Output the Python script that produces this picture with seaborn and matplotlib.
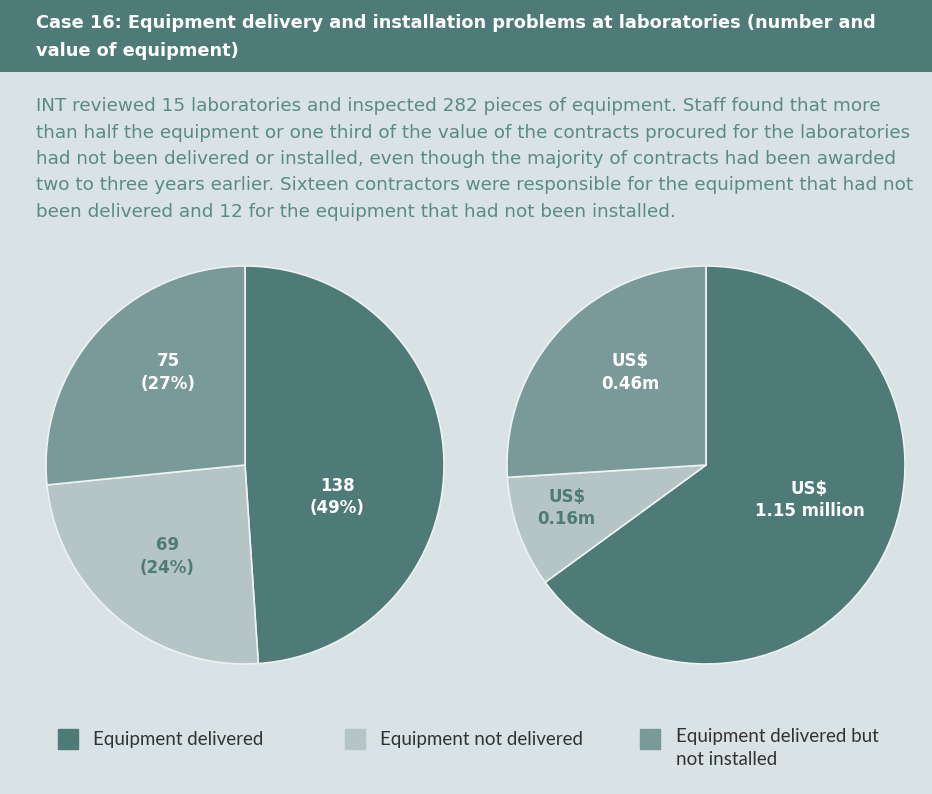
import matplotlib
matplotlib.use('Agg')
import matplotlib.pyplot as plt
import seaborn as sns

# Data
categories = ['Equipment delivered', 'Equipment not delivered', 'Equipment delivered but\nnot installed']
counts = [138, 69, 75]
count_labels = ['138\n(49%)', '69\n(24%)', '75\n(27%)']
values_musd = [1.15, 0.16, 0.46]
value_labels = ['US$\n1.15 million', 'US$\n0.16m', 'US$\n0.46m']

title = 'Case 16: Equipment delivery and installation problems at laboratories (number and\nvalue of equipment)'
body = ['INT reviewed 15 laboratories and inspected 282 pieces of equipment. Staff found that more',
        'than half the equipment or one third of the value of the contracts procured for the laboratories',
        'had not been delivered or installed, even though the majority of contracts had been awarded',
        'two to three years earlier. Sixteen contractors were responsible for the equipment that had not',
        'been delivered and 12 for the equipment that had not been installed.']

sns.set_style('white')
plt.rcParams['font.family'] = ['DejaVu Sans']

colors = ['#4e7a78', '#b5c5c5', '#7a9a9a']
label_colors = ['white', '#4e7a78', 'white']
bg = '#d9e2e4'

W, H = 932, 794
fig = plt.figure(figsize=(W / 100, H / 100), dpi=100, facecolor=bg)

# header band
hdr = fig.add_axes([0, 1 - 72 / H, 1, 72 / H])
hdr.set_facecolor('#4e7a78')
hdr.set_xticks([])
hdr.set_yticks([])
for s in hdr.spines.values():
    s.set_visible(False)
fig.text(36 / W, 1 - 37 / H, title, color='white', fontsize=12.8, fontweight='bold',
         va='center', ha='left', linespacing=1.65)

# paragraph
for i, line in enumerate(body):
    fig.text(36 / W, 1 - (106 + i * 26.5) / H, line, color='#5a8a88', fontsize=13.2,
             va='center', ha='left')


def draw_pie(cx, vals, labels, pos):
    r = 200
    ax = fig.add_axes([(cx - r) / W, 1 - (465 + r) / H, 2 * r / W, 2 * r / H])
    ax.pie(vals, colors=colors, startangle=90, counterclock=False, radius=1,
           wedgeprops=dict(edgecolor='#eef2f2', linewidth=1.2))
    ax.set_xlim(-1.005, 1.005)
    ax.set_ylim(-1.005, 1.005)
    ax.set_aspect('equal')
    ax.axis('off')
    for lab, (x, y), c in zip(labels, pos, label_colors):
        ax.text(x, y, lab, ha='center', va='center', color=c, fontsize=12,
                fontweight='bold', linespacing=1.3)


draw_pie(245, counts, count_labels, [(0.465, -0.16), (-0.39, -0.46), (-0.385, 0.465)])
draw_pie(706, values_musd, value_labels, [(0.52, -0.175), (-0.70, -0.215), (-0.38, 0.465)])

# legend
sq_x = [58, 345, 640]
txt_x = [93, 380, 676]
for c, lab, sx, tx in zip(colors, categories, sq_x, txt_x):
    fig.patches.append(plt.Rectangle((sx / W, 1 - 749 / H), 20 / W, 20 / H, color=c,
                                     transform=fig.transFigure, figure=fig))
    multi = '\n' in lab
    fig.text(tx / W, 1 - (728 if multi else 739) / H, lab, color='#333333', fontsize=13.5,
             va='top' if multi else 'center', ha='left', linespacing=1.4,
             family=['Lato', 'DejaVu Sans'])

fig.savefig('out.png', dpi=100, facecolor=bg)
